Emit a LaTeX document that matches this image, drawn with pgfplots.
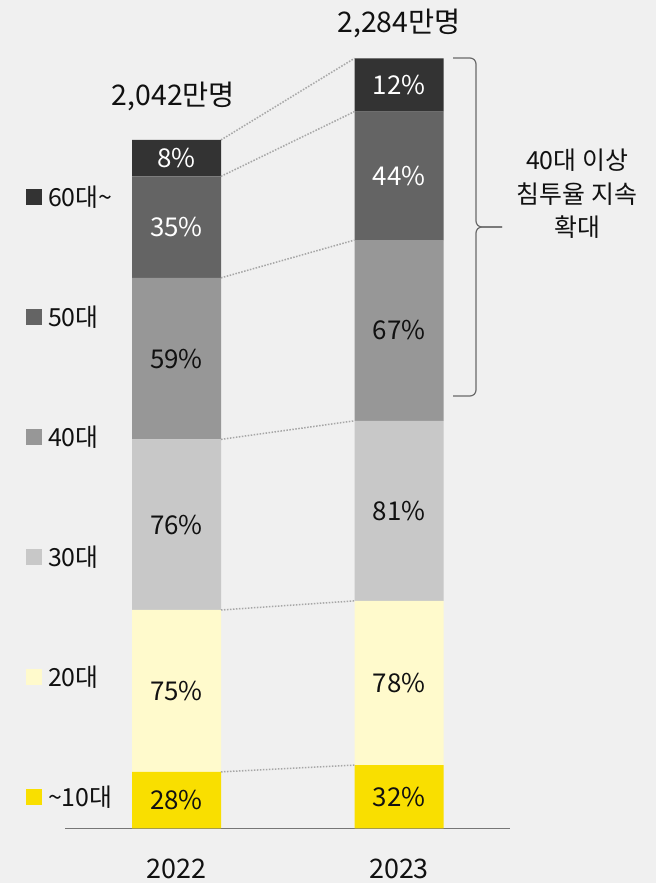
\documentclass[border=0pt]{standalone}
\usepackage{pgfplots}
\pgfplotsset{compat=1.18}
\usepackage{fontspec}
\setmainfont{Noto Sans CJK KR}
\definecolor{bg}{HTML}{F0F0F0}
\definecolor{c10}{HTML}{F9DF00}
\definecolor{c20}{HTML}{FFFACC}
\definecolor{c30}{HTML}{C8C8C8}
\definecolor{c40}{HTML}{979797}
\definecolor{c50}{HTML}{646464}
\definecolor{c60}{HTML}{333333}
\definecolor{axgray}{HTML}{767676}
\definecolor{dotgray}{HTML}{A6A6A6}
\definecolor{bracegray}{HTML}{6A6A6A}
\definecolor{txt}{HTML}{111111}
\begin{document}
\begin{tikzpicture}[x=1bp,y=1bp,
  lbl/.style={font=\fontsize{26}{26}\selectfont, text height=19bp, text depth=0pt, inner sep=0pt, anchor=center, text=txt},
  wlbl/.style={lbl, text=white},
  ttl/.style={font=\fontsize{28.5}{28.5}\selectfont, text height=20.8bp, text depth=0pt, inner sep=0pt, anchor=center, text=txt},
  dotline/.style={draw=dotgray, line width=1.5bp, dash pattern=on 1.5bp off 1.5bp}]
\fill[bg] (0,0) rectangle (656,883);
\begin{axis}[
  at={(65.25bp,54.5bp)}, anchor=south west,
  scale only axis, width=445bp, height=775.56bp,
  xmin=-0.5, xmax=1.5, ymin=0, ymax=2300,
  ybar stacked, bar width=0.4,
  hide y axis, axis x line=bottom,
  x axis line style={-, draw=axgray, line width=1.5bp},
  xtick={0,1}, xticklabels={2022,2023}, major tick length=0pt,
  xticklabel style={font=\fontsize{27}{27}\selectfont, text=txt, text height=20bp, text depth=0pt, inner sep=0pt, anchor=north, yshift=-29.5bp},
  /pgf/number format/assume math mode=true,
  clip=false,
  reverse legend,
  legend image code/.code={\fill[#1] (0bp,-4.7bp) rectangle (16bp,11.3bp);},
  legend style={at={(axis description cs:-0.0882,0.8252)}, anchor=north west, draw=none, fill=none, inner sep=0pt, outer sep=0pt, row sep=96bp, column sep=6bp, font=\fontsize{25}{25}\selectfont, text=txt, nodes={inner sep=0pt, text height=18bp, text depth=6bp}},
  legend cell align=left,
]
\addplot[fill=c10, draw=none] coordinates {(0,168) (1,188)};
\addlegendentry{\textasciitilde10대}
\addplot[fill=c20, draw=none] coordinates {(0,480) (1,487)};
\addlegendentry{20대}
\addplot[fill=c30, draw=none] coordinates {(0,506) (1,534)};
\addlegendentry{30대}
\addplot[fill=c40, draw=none] coordinates {(0,479) (1,536)};
\addlegendentry{40대}
\addplot[fill=c50, draw=none] coordinates {(0,301) (1,381)};
\addlegendentry{50대}
\addplot[fill=c60, draw=none] coordinates {(0,108) (1,158)};
\addlegendentry{60대\textasciitilde}

% label anchor points (segment centres)
\coordinate (a1) at (axis cs:0,84);
\coordinate (a2) at (axis cs:0,408);
\coordinate (a3) at (axis cs:0,901);
\coordinate (a4) at (axis cs:0,1393.5);
\coordinate (a5) at (axis cs:0,1783.5);
\coordinate (a6) at (axis cs:0,1988);
\coordinate (b1) at (axis cs:1,94);
\coordinate (b2) at (axis cs:1,431.5);
\coordinate (b3) at (axis cs:1,942);
\coordinate (b4) at (axis cs:1,1477);
\coordinate (b5) at (axis cs:1,1935.5);
\coordinate (b6) at (axis cs:1,2205);
\coordinate (ta) at (axis cs:0,2042);
\coordinate (tb) at (axis cs:1,2284);
% connector end points (stack boundaries)
\coordinate (l0) at (axis cs:0.2,168);  \coordinate (r0) at (axis cs:0.8,188);
\coordinate (l1) at (axis cs:0.2,648);  \coordinate (r1) at (axis cs:0.8,675);
\coordinate (l2) at (axis cs:0.2,1154); \coordinate (r2) at (axis cs:0.8,1209);
\coordinate (l3) at (axis cs:0.2,1633); \coordinate (r3) at (axis cs:0.8,1745);
\coordinate (l4) at (axis cs:0.2,1934); \coordinate (r4) at (axis cs:0.8,2126);
\coordinate (l5) at (axis cs:0.2,2042); \coordinate (r5) at (axis cs:0.8,2284);
\end{axis}
% connectors
\foreach \i in {0,...,5} {\draw[dotline] (l\i) -- (r\i);}
% segment labels
\node[lbl] at (a1) {28\%};
\node[lbl] at (a2) {75\%};
\node[lbl] at (a3) {76\%};
\node[lbl] at (a4) {59\%};
\node[wlbl] at (a5) {35\%};
\node[wlbl] at (a6) {8\%};
\node[lbl] at (b1) {32\%};
\node[lbl] at (b2) {78\%};
\node[lbl] at (b3) {81\%};
\node[lbl] at (b4) {67\%};
\node[wlbl] at (b5) {44\%};
\node[wlbl] at (b6) {12\%};
% totals
\node[ttl] at ([yshift=45bp, xshift=-3bp]ta) {2,042만명};
\node[ttl] at ([yshift=36.5bp]tb) {2,284만명};
% brace
\draw[bracegray, line width=1.2bp, rounded corners=6bp] (453,825) -- (476,825) -- (476,656) -- (502,656);
\draw[bracegray, line width=1.2bp, rounded corners=6bp] (502,656) -- (476,656) -- (476,487) -- (453,487);
\node[align=center, font=\fontsize{25}{33.5}\selectfont, text=txt, inner sep=0pt] at (577,689) {40대 이상\\침투율 지속\\확대};
\pgfresetboundingbox
\path (0,0) rectangle (656,883);
\end{tikzpicture}
\end{document}
